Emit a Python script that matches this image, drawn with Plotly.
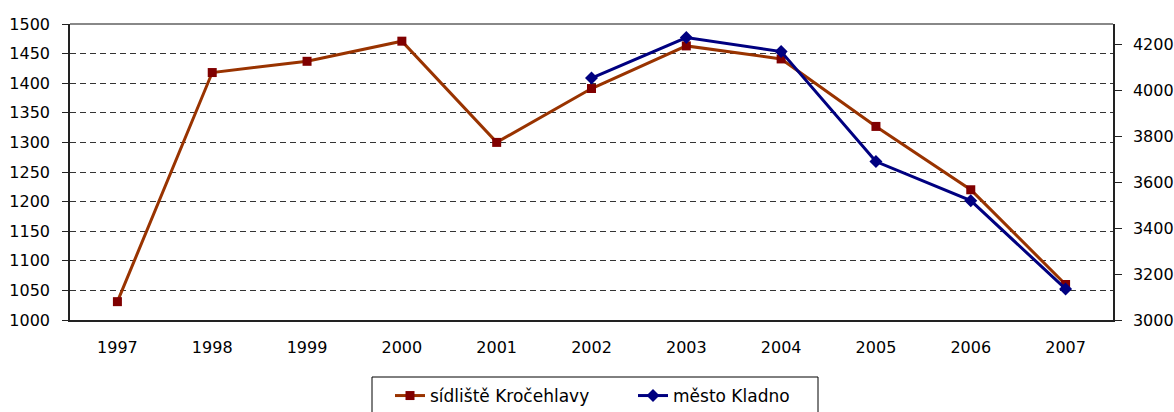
import plotly.graph_objects as go

years = ["1997", "1998", "1999", "2000", "2001", "2002", "2003", "2004", "2005", "2006", "2007"]
krocehlavy = [1031, 1418, 1437, 1471, 1300, 1391, 1463, 1441, 1327, 1220, 1060]
kladno_years = ["2002", "2003", "2004", "2005", "2006", "2007"]
kladno = [4052, 4228, 4167, 3689, 3519, 3135]

left_ticks = list(range(1000, 1501, 50))
right_ticks = list(range(3000, 4201, 200))

FONT = "DejaVu Sans, sans-serif"

W, H = 1174, 412
ML, MR, MT, MB = 70, 61, 24, 92
PW = W - ML - MR
PH = H - MT - MB


def px_x(x):  # page x -> paper x
    return (x - ML) / PW


def px_y(y):  # page y -> paper y
    return (H - MB - y) / PH


fig = go.Figure()
fig.add_trace(go.Scatter(
    x=years, y=krocehlavy, name="sídliště Kročehlavy", mode="lines+markers",
    line=dict(color="#993300", width=3),
    marker=dict(symbol="square", size=9, color="#800000"),
    yaxis="y",
))
fig.add_trace(go.Scatter(
    x=kladno_years, y=kladno, name="město Kladno", mode="lines+markers",
    line=dict(color="#000080", width=3),
    marker=dict(symbol="diamond", size=10, color="#000080"),
    yaxis="y2",
))

fig.update_layout(
    width=W, height=H,
    margin=dict(l=ML, r=MR, t=MT, b=MB, autoexpand=False),
    paper_bgcolor="white", plot_bgcolor="white",
    font=dict(family=FONT, size=16, color="black"),
    showlegend=True,
    legend=dict(
        orientation="h", x=px_x(390), xanchor="left", y=px_y(378), yanchor="top",
        borderwidth=0, font=dict(size=17), bgcolor="rgba(0,0,0,0)",
        entrywidth=198, entrywidthmode="pixels",
    ),
    xaxis=dict(
        type="category", categoryorder="array", categoryarray=years,
        range=[-0.5, 10.5], showgrid=False, zeroline=False, automargin=False,
        showline=True, linecolor="#222222", linewidth=1.5,
        ticks="", ticklabelstandoff=12,
    ),
    yaxis=dict(
        range=[1000, 1500], tickvals=left_ticks, automargin=False,
        showgrid=True, gridcolor="#333333", gridwidth=1, griddash="6px,4px",
        zeroline=False, showline=True, linecolor="#222222", linewidth=1.5,
        ticks="outside", ticklen=6, tickcolor="#222222", ticklabelstandoff=9,
    ),
    yaxis2=dict(
        range=[3000, 4287], tickvals=right_ticks, automargin=False,
        overlaying="y", side="right", showgrid=False, zeroline=False,
        showline=True, linecolor="#222222", linewidth=1.5,
        ticks="outside", ticklen=7, tickcolor="#222222", ticklabelstandoff=8,
    ),
    shapes=[
        dict(type="line", xref="paper", yref="paper", x0=0, x1=1, y0=1, y1=1,
             line=dict(color="#888888", width=2)),
        dict(type="rect", xref="paper", yref="paper",
             x0=px_x(372), x1=px_x(818), y0=px_y(377), y1=px_y(430),
             line=dict(color="black", width=1), fillcolor="rgba(0,0,0,0)"),
    ],
)

fig.write_html(
    "out.html",
    config={"displayModeBar": False},
    post_script="document.body.style.margin='0';document.body.style.overflow='hidden';",
)
